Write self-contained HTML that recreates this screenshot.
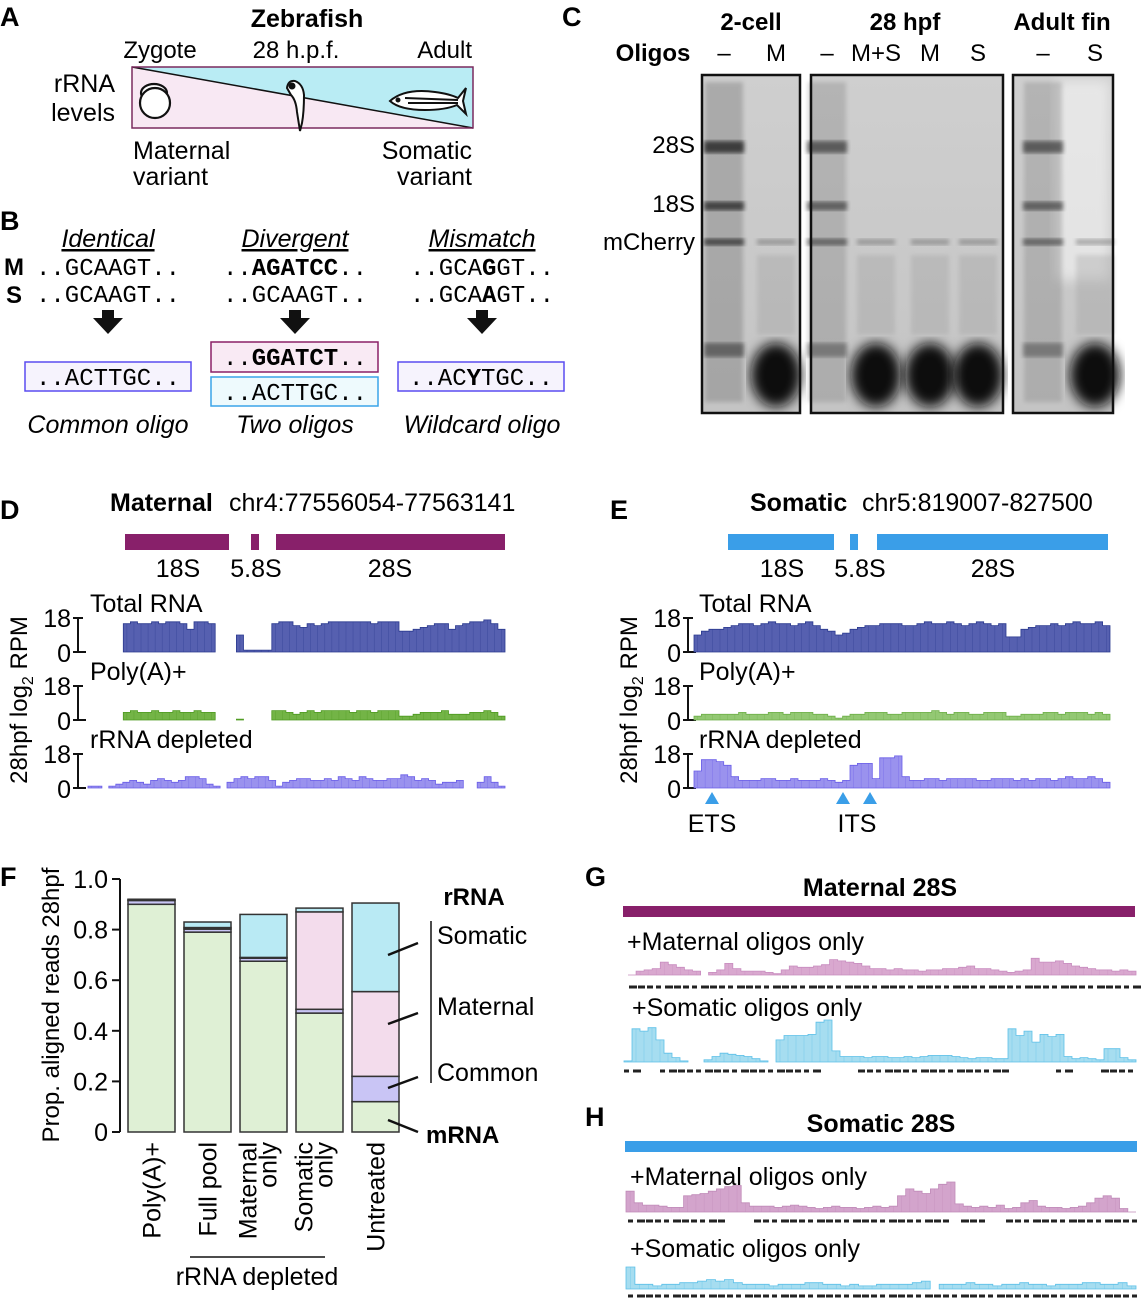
<!DOCTYPE html>
<html><head><meta charset="utf-8"><style>
html,body{margin:0;padding:0;background:#fff}
svg{display:block;font-family:"Liberation Sans",sans-serif}
.mono{font-family:"Liberation Mono",monospace}
</style></head><body>
<svg id="fig" width="1141" height="1298" viewBox="0 0 1141 1298" xmlns="http://www.w3.org/2000/svg">
<defs>
<filter id="blur2"><feGaussianBlur stdDeviation="2"/></filter>
<filter id="blur5"><feGaussianBlur stdDeviation="6"/></filter>
<linearGradient id="gelbg" x1="0" y1="0" x2="0" y2="1"><stop offset="0" stop-color="#cfcfcf"/><stop offset="1" stop-color="#c4c4c4"/></linearGradient>
</defs>
<!-- PANEL A -->
<g>
<text x="0" y="26" font-size="27" font-weight="bold">A</text>
<text x="307" y="27" font-size="25" font-weight="bold" text-anchor="middle">Zebrafish</text>
<text x="160" y="58" font-size="24" text-anchor="middle">Zygote</text>
<text x="296" y="58" font-size="24" text-anchor="middle">28 h.p.f.</text>
<text x="472" y="58" font-size="24" text-anchor="end">Adult</text>
<text x="115" y="92" font-size="25" text-anchor="end">rRNA</text>
<text x="115" y="121" font-size="25" text-anchor="end">levels</text>
<polygon points="132,67 473,67 473,128" fill="#b9ecf4"/>
<polygon points="132,67 473,128 132,128" fill="#f8e8f3"/>
<line x1="132" y1="67" x2="473" y2="128" stroke="#111" stroke-width="1.5"/>
<rect x="132" y="67" width="341" height="61" fill="none" stroke="#7a2a5e" stroke-width="1.5"/>
<g fill="#fff" stroke="#111" stroke-width="2.2">
<ellipse cx="154" cy="93" rx="13" ry="9"/><circle cx="155" cy="103" r="15"/></g>
<g stroke="#111" stroke-width="2" fill="#fff">
<path d="M287,88 Q288,80 295,81 Q303,84 304,95 Q304,112 302,123 L300,131 L297,112 Q296,100 291,95 Z"/><circle cx="292" cy="86" r="2.5" fill="#111"/></g>
<g stroke="#111" stroke-width="2" fill="#fff">
<path d="M390,101 Q405,88 435,92 Q450,94 458,98 L466,88 L463,101 L466,114 L457,105 Q445,110 425,110 Q400,110 390,101 Z"/>
<line x1="405" y1="98" x2="458" y2="100"/><line x1="408" y1="103" x2="458" y2="103"/><circle cx="398" cy="100" r="1.5" fill="#111"/></g>
<text x="133" y="159" font-size="25">Maternal</text>
<text x="133" y="185" font-size="25">variant</text>
<text x="472" y="159" font-size="25" text-anchor="end">Somatic</text>
<text x="472" y="185" font-size="25" text-anchor="end">variant</text>
</g>
<!-- PANEL B -->
<g>
<text x="0" y="230" font-size="27" font-weight="bold">B</text>
<text x="108" y="247" font-size="25" font-style="italic" text-anchor="middle" text-decoration="underline">Identical</text>
<text x="295" y="247" font-size="25" font-style="italic" text-anchor="middle" text-decoration="underline">Divergent</text>
<text x="482" y="247" font-size="25" font-style="italic" text-anchor="middle" text-decoration="underline">Mismatch</text>
<text x="4" y="275" font-size="24" font-weight="bold">M</text>
<text x="6" y="303" font-size="24" font-weight="bold">S</text>
<g class="mono" font-size="24" text-anchor="middle">
<text x="108" y="275">..GCAAGT..</text>
<text x="108" y="302">..GCAAGT..</text>
<text x="295" y="275">..<tspan font-weight="bold">AGATCC</tspan>..</text>
<text x="295" y="302">..GCAAGT..</text>
<text x="482" y="275">..GCA<tspan font-weight="bold">G</tspan>GT..</text>
<text x="482" y="302">..GCA<tspan font-weight="bold">A</tspan>GT..</text>
</g>
<g fill="#111">
<path d="M102,310 h12 v8 h9 l-15,16 l-15,-16 h9z"/>
<path d="M289,310 h12 v8 h9 l-15,16 l-15,-16 h9z"/>
<path d="M476,310 h12 v8 h9 l-15,16 l-15,-16 h9z"/>
</g>
<rect x="25" y="362" width="166" height="29" fill="#f6f3fd" stroke="#5a4cf0" stroke-width="1.5"/>
<rect x="211" y="342" width="167" height="30" fill="#f9eaf4" stroke="#8b2066" stroke-width="1.5"/>
<rect x="211" y="377" width="167" height="29" fill="#eefafd" stroke="#3aa4e8" stroke-width="1.5"/>
<rect x="398" y="362" width="166" height="29" fill="#f6f3fd" stroke="#5a4cf0" stroke-width="1.5"/>
<g class="mono" font-size="24" text-anchor="middle">
<text x="108" y="385">..ACTTGC..</text>
<text x="295" y="365">..<tspan font-weight="bold">GGATCT</tspan>..</text>
<text x="295" y="400">..ACTTGC..</text>
<text x="481" y="385">..AC<tspan font-weight="bold">Y</tspan>TGC..</text>
</g>
<text x="108" y="433" font-size="25" font-style="italic" text-anchor="middle">Common oligo</text>
<text x="295" y="433" font-size="25" font-style="italic" text-anchor="middle">Two oligos</text>
<text x="482" y="433" font-size="25" font-style="italic" text-anchor="middle">Wildcard oligo</text>
</g>
<!-- PANEL C -->
<g>
<text x="562" y="26" font-size="27" font-weight="bold">C</text>
<g font-size="24" font-weight="bold" text-anchor="middle">
<text x="751" y="30">2-cell</text>
<text x="905" y="30">28 hpf</text>
<text x="1062" y="30">Adult fin</text>
<text x="653" y="61">Oligos</text>
</g>
<g font-size="24" text-anchor="middle">
<text x="724" y="61">–</text>
<text x="776" y="61">M</text>
<text x="827" y="61">–</text>
<text x="876" y="61">M+S</text>
<text x="930" y="61">M</text>
<text x="978" y="61">S</text>
<text x="1043" y="61">–</text>
<text x="1095" y="61">S</text>
</g>
<g font-size="24" text-anchor="end">
<text x="695" y="153">28S</text>
<text x="695" y="212">18S</text>
<text x="695" y="250">mCherry</text>
</g>
<g id="gel"></g>
</g>
<!-- PANEL D -->
<g>
<text x="0" y="519" font-size="27" font-weight="bold">D</text>
<text x="110" y="511" font-size="25" font-weight="bold">Maternal</text>
<text x="229" y="511" font-size="25">chr4:77556054-77563141</text>
<g fill="#88206a">
<rect x="125" y="534" width="104" height="16"/>
<rect x="251" y="534" width="8" height="16"/>
<rect x="276" y="534" width="229" height="16"/>
</g>
<g font-size="25" text-anchor="middle">
<text x="178" y="577">18S</text>
<text x="256" y="577">5.8S</text>
<text x="390" y="577">28S</text>
</g>
<text transform="translate(27,700) rotate(-90)" font-size="24" text-anchor="middle">28hpf log<tspan font-size="16" dy="6">2</tspan><tspan dy="-6"> RPM</tspan></text>
<g id="dtracks"></g>
</g>
<!-- PANEL E -->
<g>
<text x="610" y="519" font-size="27" font-weight="bold">E</text>
<text x="750" y="511" font-size="25" font-weight="bold">Somatic</text>
<text x="862" y="511" font-size="25">chr5:819007-827500</text>
<g fill="#3a9ee8">
<rect x="728" y="534" width="106" height="16"/>
<rect x="850" y="534" width="8" height="16"/>
<rect x="877" y="534" width="231" height="16"/>
</g>
<g font-size="25" text-anchor="middle">
<text x="782" y="577">18S</text>
<text x="860" y="577">5.8S</text>
<text x="993" y="577">28S</text>
</g>
<text transform="translate(637,700) rotate(-90)" font-size="24" text-anchor="middle">28hpf log<tspan font-size="16" dy="6">2</tspan><tspan dy="-6"> RPM</tspan></text>
<g id="etracks"></g>
<g fill="#3a9ee8">
<polygon points="712,792 705,804 719,804"/>
<polygon points="843,792 836,804 850,804"/>
<polygon points="870,792 863,804 877,804"/>
</g>
<text x="712" y="832" font-size="25" text-anchor="middle">ETS</text>
<text x="857" y="832" font-size="25" text-anchor="middle">ITS</text>
</g>
<!-- PANEL F -->
<g>
<text x="0" y="886" font-size="27" font-weight="bold">F</text>
<text transform="translate(59,1005) rotate(-90)" font-size="24" text-anchor="middle">Prop. aligned reads 28hpf</text>
<g id="fchart"></g>
<text x="474" y="905" font-size="24" font-weight="bold" text-anchor="middle">rRNA</text>
<line x1="431" y1="921" x2="431" y2="1083" stroke="#111" stroke-width="1.5"/>
<text x="437" y="944" font-size="25">Somatic</text>
<text x="437" y="1015" font-size="25">Maternal</text>
<text x="437" y="1081" font-size="25">Common</text>
<text x="426" y="1143" font-size="24" font-weight="bold">mRNA</text>
<g stroke="#111" stroke-width="2.5">
<line x1="388" y1="955" x2="418" y2="943"/>
<line x1="388" y1="1024" x2="418" y2="1013"/>
<line x1="388" y1="1088" x2="418" y2="1077"/>
<line x1="388" y1="1120" x2="418" y2="1132"/>
</g>
<line x1="190" y1="1257" x2="325" y2="1257" stroke="#111" stroke-width="1.5"/>
<text x="257" y="1285" font-size="25" text-anchor="middle">rRNA depleted</text>
</g>
<!-- PANEL G/H -->
<g>
<text x="585" y="886" font-size="27" font-weight="bold">G</text>
<text x="880" y="896" font-size="25" font-weight="bold" text-anchor="middle">Maternal 28S</text>
<rect x="623" y="906" width="512" height="11" fill="#88206a"/>
<text x="627" y="950" font-size="25">+Maternal oligos only</text>
<text x="632" y="1016" font-size="25">+Somatic oligos only</text>
</g>
<g>
<text x="585" y="1126" font-size="27" font-weight="bold">H</text>
<text x="881" y="1132" font-size="25" font-weight="bold" text-anchor="middle">Somatic 28S</text>
<rect x="625" y="1141" width="512" height="11" fill="#3a9ee8"/>
<text x="630" y="1185" font-size="25">+Maternal oligos only</text>
<text x="630" y="1257" font-size="25">+Somatic oligos only</text>
</g>
<g id="ghtracks"></g>
</svg>
<script>
// ---------- Panel F data ----------
const fCategories = ["Poly(A)+", "Full pool", "Maternal only", "Somatic only", "Untreated"];
const fMRNA     = [0.90, 0.79, 0.675, 0.47, 0.12];
const fCommon   = [0.015, 0.012, 0.012, 0.015, 0.10];
const fMaternal = [0.002, 0.006, 0.003, 0.385, 0.335];
const fSomatic  = [0.003, 0.022, 0.17, 0.015, 0.35];
const fTicks = [0, 0.2, 0.4, 0.6, 0.8, 1.0];
const fTickLabels = ["0", "0.2", "0.4", "0.6", "0.8", "1.0"];

// ---------- Track data (log2 RPM, 0-18; null = no coverage) ----------
const dTotal = [null,null,null,null,null,15,16,15,15,16,15,16,16,15,12,16,16,15,null,null,null,9,1,1,1,1,15,16,16,14,13,15,14,15,16,16,16,16,16,16,15,16,16,16,11,11,12,13,14,15,15,12,14,15,16,16,17,15,12];
const dPolyA = [null,null,null,null,null,4,5,4,4,5,4,4,5,4,4,5,4,4,null,null,null,0.5,null,null,null,null,5,5,4,3,4,5,4,5,5,5,5,4,5,5,4,5,5,5,2,2,3,4,4,4,5,3,3,3,4,4,5,4,2];
const dDepleted = [1,1,null,1,2,3,4,3,2,4,5,4,3,4,6,6,5,2,1,null,3,5,6,5,6,6,4,1,3,4,5,5,4,4,5,4,6,5,4,6,5,4,4,5,5,7,6,4,5,4,2,3,3,4,null,null,3,6,3,1];
const eTotal = [9,11,12,12,13,14,15,15,14,15,16,15,15,14,15,16,14,12,11,9,10,12,13,14,14,15,15,15,14,14,15,16,15,15,16,15,14,15,16,15,14,15,8,8,12,13,14,14,15,14,15,16,15,15,16,14];
const ePolyA = [2,3,3,3,3,3,4,3,3,3,4,4,3,4,4,4,3,3,2,1,2,3,3,4,4,4,3,3,4,4,4,4,5,4,3,4,4,3,3,4,4,4,2,2,3,3,3,4,4,3,4,4,4,3,4,3];
const eDepleted = [9,15,15,14,12,6,4,4,4,5,5,4,4,5,4,4,4,5,4,3,4,12,13,13,5,16,16,17,6,4,4,5,5,4,5,5,5,5,4,4,5,5,5,4,5,4,5,5,4,5,6,5,5,6,5,3];
const gMatMat = [0,3,4,5,10,8,6,4,3,null,2,4,9,5,3,3,3,2,1,4,7,6,6,7,8,12,11,10,9,7,5,5,4,5,4,4,3,4,4,5,5,6,7,5,5,4,3,2,3,4,13,10,10,11,9,7,6,5,4,4,3,4,3];
const gMatSom = [1,30,28,31,20,8,4,1,null,null,2,5,8,7,6,5,3,1,null,20,24,24,24,25,36,38,10,5,5,5,4,5,5,4,4,5,4,5,6,6,6,5,4,3,4,4,3,3,30,24,28,18,25,23,25,5,3,4,3,2,12,12,4,2];
const hMatMat = [18,8,6,6,5,4,4,14,15,16,18,20,22,23,8,5,5,5,4,5,6,5,4,3,4,5,4,4,3,4,5,4,5,14,20,18,16,20,24,26,7,5,4,5,4,6,3,4,8,10,5,4,4,3,4,5,8,12,14,12,3,0];
const hSomSom = [14,3,3,2,3,3,4,4,5,6,5,6,4,3,3,3,2,3,3,3,4,4,3,3,2,3,2,2,3,3,3,3,4,5,null,3,3,3,4,3,3,2,3,3,4,3,3,2,3,3,3,4,4,3,3,4,2];

const svg = document.getElementById('fig');
const NS = "http://www.w3.org/2000/svg";
function mk(tag, attrs, parent){ const e=document.createElementNS(NS,tag); for(const k in attrs) e.setAttribute(k,attrs[k]); parent.appendChild(e); return e; }

// ---------- Panel F chart ----------
(function(){
  const g = document.getElementById('fchart');
  const y0 = 1132, y1 = 879, axX = 120;
  const yScale = v => y0 - v*(y0-y1);
  const ax = mk('line',{x1:axX,y1:y1,x2:axX,y2:y0,stroke:'#111','stroke-width':2},g);
  
  
  fTicks.forEach((t,i)=>{
    mk('line',{x1:axX-8,x2:axX,y1:yScale(t),y2:yScale(t),stroke:'#111','stroke-width':2},g);
    const tx = mk('text',{x:axX-12,y:yScale(t)+9,'font-size':25,'text-anchor':'end'},g);
    tx.textContent = fTickLabels[i];
    
    
  });
  const colors = ['#dff0d5','#c9c5f5','#f3dcec','#b9eaf4'];
  const names = ['mrna','common','maternal','somatic'];
  const series = [fMRNA,fCommon,fMaternal,fSomatic];
  const bw = 47, step = 56, x0 = 128;
  fCategories.forEach((c,i)=>{
    let acc = 0;
    const x = x0 + i*step;
    series.forEach((s,k)=>{
      const v = s[i];
      const r = mk('rect',{x:x,y:yScale(acc+v),width:bw,height:Math.max(0,yScale(acc)-yScale(acc+v)),fill:colors[k],stroke:'#333','stroke-width':1.5},g);
      
      
      acc += v;
    });
    const lines = c === 'Maternal only' ? ['Maternal','only'] : c === 'Somatic only' ? ['Somatic','only'] : [c];
    lines.forEach((ln,j)=>{
      const cx = x + bw/2 + (lines.length===2 ? (j===0?-7:13) : 9);
      const t = mk('text',{transform:'translate('+cx+',1142) rotate(-90)','font-size':25,'text-anchor':'end'},g);
      t.textContent = ln;
      
      
    });
  });
})();

// ---------- Coverage tracks ----------
function track(parent, vals, x0, x1, base, h, max, fill, stroke, name){
  const w = (x1-x0)/vals.length;
  let d = '', open = false;
  vals.forEach((v,i)=>{
    const xa = x0 + i*w;
    if(v===null){ if(open){ d += 'L'+xa.toFixed(1)+','+base+'Z'; open=false; } return; }
    const y = base - v/max*h;
    if(!open){ d += 'M'+xa.toFixed(1)+','+base; open=true; }
    d += 'L'+xa.toFixed(1)+','+y.toFixed(1)+'L'+(xa+w).toFixed(1)+','+y.toFixed(1);
  });
  if(open) d += 'L'+x1+','+base+'Z';
  const p = mk('path',{d:d,fill:fill,stroke:stroke,'stroke-width':0.8},parent);
  
  
  for(let i=0;i<vals.length;i++){ if(vals[i]===null||vals[i]<1) continue;
    const xa = x0+i*w+w/2; mk('line',{x1:xa,x2:xa,y1:base,y2:base-vals[i]/max*h,stroke:stroke,'stroke-width':0.6,opacity:0.5},parent); }
}
function scaleBar(parent, x, base, top, name){
  const a = mk('path',{d:'M'+(x-5)+','+top+'H'+(x+5)+'M'+x+','+top+'V'+base+'M'+(x-5)+','+base+'H'+(x+8),stroke:'#111','stroke-width':2,fill:'none'},parent);
  
  
  const t1 = mk('text',{x:x-7,y:top+9,'font-size':25,'text-anchor':'end'},parent); t1.textContent='18';
  
  
  const t0 = mk('text',{x:x-7,y:base+10,'font-size':25,'text-anchor':'end'},parent); t0.textContent='0';
  
  
}
function label(parent, x, y, txt, name){ const t=mk('text',{x:x,y:y,'font-size':25},parent); t.textContent=txt;
  
   }

(function(){
  const d = document.getElementById('dtracks');
  const rows = [[dTotal,652,'#5660b0','#2b3a8f','Total RNA'],[dPolyA,720,'#73b446','#4e9a20','Poly(A)+'],[dDepleted,788,'#9a92ee','#6a5ee8','rRNA depleted']];
  rows.forEach((r,i)=>{ scaleBar(d,78,r[1],r[1]-34,'d-scale-'+i); label(d,90,r[1]-40,r[4],'d-track-label');
    track(d,r[0],88,505,r[1],34,18,r[2],r[3],'d-track-'+i); });
  const e = document.getElementById('etracks');
  const erows = [[eTotal,652,'#5660b0','#2b3a8f','Total RNA'],[ePolyA,720,'#93c873','#6fb04a','Poly(A)+'],[eDepleted,788,'#9a92ee','#6a5ee8','rRNA depleted']];
  erows.forEach((r,i)=>{ scaleBar(e,688,r[1],r[1]-34,'e-scale-'+i); label(e,699,r[1]-40,r[4],'e-track-label');
    track(e,r[0],694,1110,r[1],34,18,r[2],r[3],'e-track-'+i); });
  const g = document.getElementById('ghtracks');
  track(g,gMatMat,628,1136,975,18,14,'#d9a8cf','#c88cbf','g-maternal-track');
  track(g,gMatSom,624,1136,1062,42,38,'#a6ddf0','#5cc0e8','g-somatic-track');
  track(g,hMatMat,626,1136,1212,30,26,'#d3a4cc','#c08ab8','h-maternal-track');
  track(g,hSomSom,626,1136,1289,22,14,'#a6ddf0','#5cc0e8','h-somatic-track');
  const dashRows = [[629,1136,987,0.0],[624,1136,1071,0.3],[628,1136,1221,0.25],[628,1136,1296,0.0]];
  const gaps = [[],[[642,655],[720,655],[820,850],[1006,1048],[1072,1100]],[[720,745],[950,960],[985,1000]],[]];
  dashRows.forEach((r,k)=>{
    let s = '';
    for(let x=r[0];x<r[1];x+=9){ if(gaps[k].some(gp=>x>=gp[0]&&x<=gp[1])) continue; s += 'M'+x+','+r[2]+'h'+(5+(x*7%4))+' '; }
    const p = mk('path',{d:s,stroke:'#222','stroke-width':3,fill:'none'},g);
    
    
  });
})();

// ---------- Gel ----------
(function(){
  const g = document.getElementById('gel');
  const boxes = [[702,75,98,338],[811,75,192,338],[1013,75,100,338]];
  boxes.forEach((b,i)=>{ const r=mk('rect',{x:b[0],y:b[1],width:b[2],height:b[3],fill:'url(#gelbg)'},g);
    
     });
  const bandLayer = mk('g',{},g);
  mk('rect',{x:1055,y:80,width:55,height:200,fill:'#fff',opacity:0.5,filter:'url(#blur5)'},bandLayer);
  [724,827,1043].forEach((x,i)=>{
    const dark = i===0 ? 1 : 0.75;
    mk('rect',{x:x-19,y:82,width:38,height:320,fill:'#777',opacity:0.4*dark,filter:'url(#blur2)'},bandLayer);
    [[147,12,0.8],[206,9,0.75],[242,7,0.7],[350,14,0.5]].forEach(b=>{
      mk('rect',{x:x-20,y:b[0]-b[1]/2,width:40,height:b[1],fill:'#222',opacity:b[2]*dark,filter:'url(#blur2)'},bandLayer);
    });
  });
  [776,876,930,978,1095].forEach(x=>{
    mk('rect',{x:x-19,y:239,width:38,height:6,fill:'#555',opacity:0.4,filter:'url(#blur2)'},bandLayer);
    mk('rect',{x:x-19,y:255,width:38,height:80,fill:'#999',opacity:0.3,filter:'url(#blur2)'},bandLayer);
    mk('ellipse',{cx:x,cy:375,rx:25,ry:32,fill:'#111',filter:'url(#blur5)'},bandLayer);
  });
  boxes.forEach(b=>{ mk('rect',{x:b[0],y:b[1],width:b[2],height:b[3],fill:'none',stroke:'#111','stroke-width':2.5},g); });
})();
</script>
</body></html>
